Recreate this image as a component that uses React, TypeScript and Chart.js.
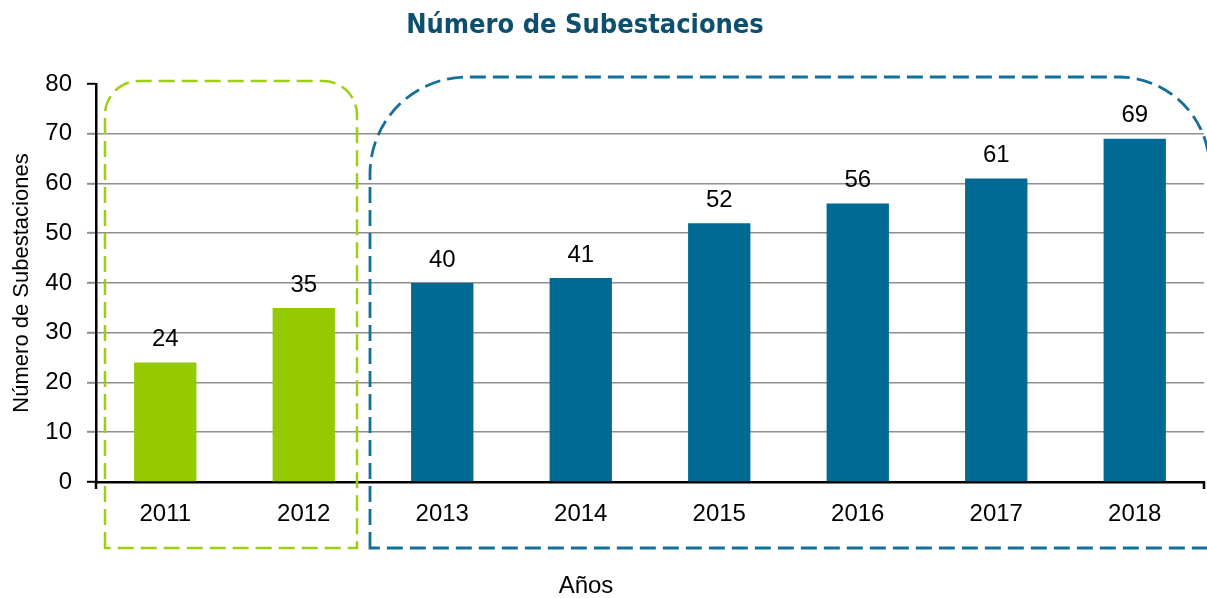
import React, { useEffect, useRef } from 'react';
import { Chart, registerables } from 'chart.js';

Chart.register(...registerables);

// ---- data ----
const years: string[] = ['2011', '2012', '2013', '2014', '2015', '2016', '2017', '2018'];
const substations: number[] = [24, 35, 40, 41, 52, 56, 61, 69];
const groupOf: string[] = ['a', 'a', 'b', 'b', 'b', 'b', 'b', 'b'];
const yTickMin = 0;
const yTickMax = 80;
const yTickStep = 10;

const chartTitle = 'Número de Subestaciones';
const yAxisTitle = 'Número de Subestaciones';
const xAxisTitle = 'Años';

// ---- style ----
const GREEN = '#95ca00';
const BLUE = '#006a95';
const GREEN_DASH = '#9bcf10';
const BLUE_DASH = '#14709a';
const TITLE_COLOR = '#0d4f6d';
const GRID = '#8e8e8e';
const FONT = "'Liberation Sans', Arial, sans-serif";
const TITLE_FONT = "'Liberation Sans Narrow', 'DejaVu Sans Condensed', 'Liberation Sans', sans-serif";
const FS = 24;

function roundedPath(ctx: CanvasRenderingContext2D, l: number, t: number, r: number, b: number, rl: number, rr: number) {
  ctx.beginPath();
  ctx.moveTo(l, b);
  ctx.lineTo(l, t + rl);
  ctx.arcTo(l, t, l + rl, t, rl);
  ctx.lineTo(r - rr, t);
  ctx.arcTo(r, t, r, t + rr, rr);
  ctx.lineTo(r, b);
  ctx.closePath();
}

const decorPlugin = {
  id: 'decor',
  afterDatasetsDraw(chart: any) {
    const ctx: CanvasRenderingContext2D = chart.ctx;
    const x = chart.scales.x;
    const y = chart.scales.y;
    const cw = (x.right - x.left) / years.length;

    // data labels
    ctx.save();
    ctx.fillStyle = '#000';
    ctx.font = `${FS}px ${FONT}`;
    ctx.textAlign = 'center';
    ctx.textBaseline = 'middle';
    const meta = chart.getDatasetMeta(0);
    meta.data.forEach((bar: any, i: number) => {
      ctx.fillText(String(substations[i]), bar.x, bar.y - 23);
    });
    ctx.restore();

    // axis extensions
    ctx.save();
    ctx.strokeStyle = '#000';
    ctx.lineWidth = 2.5;
    ctx.beginPath();
    ctx.moveTo(x.left, y.bottom);
    ctx.lineTo(x.left, y.bottom + 7);
    ctx.moveTo(x.right, y.bottom);
    ctx.lineTo(x.right, y.bottom + 7);
    ctx.stroke();
    ctx.restore();

    // dashed group outlines
    const aIdx = groupOf.map((g, i) => (g === 'a' ? i : -1)).filter((i) => i >= 0);
    const bIdx = groupOf.map((g, i) => (g === 'b' ? i : -1)).filter((i) => i >= 0);
    const top80 = y.getPixelForValue(yTickMax);
    const boxBottom = y.bottom + 66;

    ctx.save();
    ctx.setLineDash([16, 7]);
    ctx.lineWidth = 2.5;
    ctx.strokeStyle = GREEN_DASH;
    const gl = x.getPixelForValue(aIdx[0]) - cw / 2 + 9;
    const gr = x.getPixelForValue(aIdx[aIdx.length - 1]) + cw / 2 - 16;
    roundedPath(ctx, gl, top80 - 3, gr, boxBottom, 34, 34);
    ctx.stroke();

    ctx.strokeStyle = BLUE_DASH;
    ctx.lineWidth = 2.8;
    const bl = x.getPixelForValue(bIdx[0]) - cw / 2 - 3;
    const br = chart.width + 2.5;
    roundedPath(ctx, bl, top80 - 7, br, boxBottom, 97, 91);
    ctx.stroke();
    ctx.restore();

    // titles
    ctx.save();
    ctx.fillStyle = TITLE_COLOR;
    ctx.font = `bold 27px ${TITLE_FONT}`;
    ctx.textAlign = 'center';
    ctx.textBaseline = 'middle';
    ctx.fillText(chartTitle, 585, 26);
    ctx.fillStyle = '#000';
    ctx.font = `${FS}px ${FONT}`;
    ctx.fillText(xAxisTitle, 586, 586);
    ctx.restore();
  },
};

export default function App() {
  const ref = useRef<HTMLCanvasElement | null>(null);

  useEffect(() => {
    document.body.style.margin = '0';
    if (!ref.current) return;
    const chart = new Chart(ref.current, {
      type: 'bar',
      data: {
        labels: years,
        datasets: [
          {
            data: substations,
            backgroundColor: groupOf.map((g) => (g === 'a' ? GREEN : BLUE)),
            borderWidth: 0,
            categoryPercentage: 1,
            barPercentage: 0.45,
          },
        ],
      },
      options: {
        animation: false,
        responsive: false,
        maintainAspectRatio: false,
        layout: { padding: { top: 84, right: 3, left: 0, bottom: 0 } },
        plugins: {
          legend: { display: false },
          title: { display: false },
          tooltip: { enabled: false },
        },
        scales: {
          x: {
            grid: { display: false },
            border: { display: true, color: '#000', width: 2.5 },
            ticks: { color: '#000', font: { family: FONT, size: FS }, padding: 10, maxRotation: 0 },
            afterFit: (s: any) => {
              s.height = 116;
            },
          },
          y: {
            min: yTickMin,
            max: yTickMax,
            ticks: { stepSize: yTickStep, color: '#000', font: { family: FONT, size: FS }, padding: 15 },
            grid: {
              color: (c: any) => (c.tick && (c.tick.value === yTickMax || c.tick.value === yTickMin) ? 'rgba(0,0,0,0)' : GRID),
              tickColor: (c: any) => (c.tick && (c.tick.value === yTickMax || c.tick.value === yTickMin) ? '#000' : GRID),
              lineWidth: 1.6,
              tickWidth: 2,
              tickLength: 9,
            },
            border: { display: true, color: '#000', width: 2.5 },
            title: {
              display: true,
              text: yAxisTitle,
              color: '#000',
              font: { family: FONT, size: 22 },
              padding: 9,
            },
            afterFit: (s: any) => {
              s.width = 96;
            },
          },
        },
      },
      plugins: [decorPlugin],
    });
    return () => chart.destroy();
  }, []);

  return (
    <div style={{ position: 'absolute', left: 0, top: 0, width: 1207, height: 598 }}>
      <canvas ref={ref} width={1207} height={598} style={{ width: 1207, height: 598 }} />
    </div>
  );
}
